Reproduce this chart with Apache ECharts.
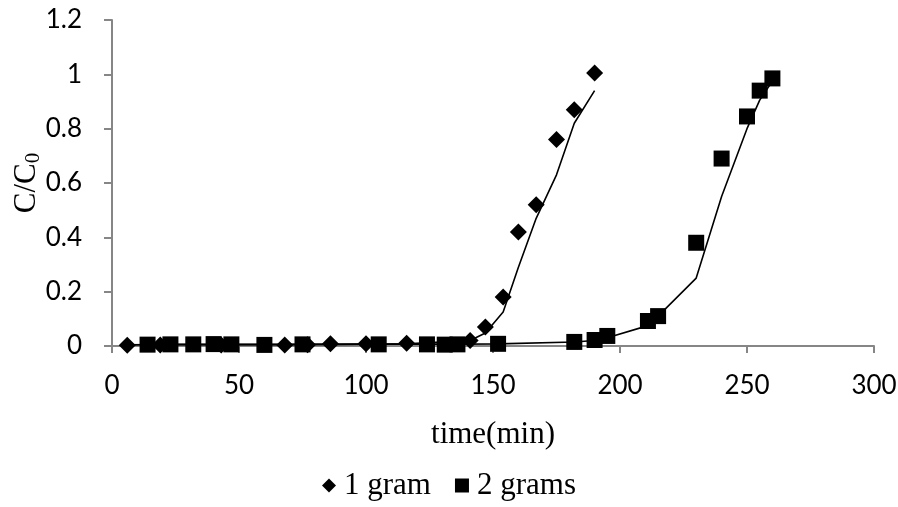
<!DOCTYPE html>
<html>
<head>
<meta charset="utf-8">
<script src="https://cdn.jsdelivr.net/npm/echarts@6/dist/echarts.min.js"></script>
<style>
html,body{margin:0;padding:0;background:#fff;}
#chart{width:898px;height:507px;}
</style>
</head>
<body>
<div id="chart"></div>
<script>
// measured points, 1 gram
var t1 = [6, 19, 43, 68, 77, 86, 100, 116, 141, 147, 154, 160, 167, 175, 182, 190];
var c1 = [0.003, 0.004, 0.004, 0.004, 0.005, 0.008, 0.008, 0.01, 0.02, 0.07, 0.18, 0.42, 0.52, 0.76, 0.87, 1.005];
// model line, 1 gram
var fit1 = [0.004, 0.005, 0.005, 0.005, 0.006, 0.006, 0.007, 0.008, 0.02, 0.048, 0.125, 0.29, 0.47, 0.63, 0.82, 0.94];

// measured points, 2 grams
var t2 = [14, 23, 32, 40, 47, 60, 75, 105, 124, 131, 136, 152, 182, 190, 195, 211, 215, 230, 240, 250, 255, 260];
var c2 = [0.005, 0.006, 0.006, 0.007, 0.006, 0.004, 0.006, 0.006, 0.006, 0.005, 0.006, 0.008, 0.015, 0.022, 0.037, 0.092, 0.11, 0.38, 0.69, 0.845, 0.94, 0.985];
// model line, 2 grams
var fit2 = [0.006, 0.006, 0.006, 0.006, 0.006, 0.006, 0.006, 0.007, 0.007, 0.007, 0.007, 0.008, 0.015, 0.02, 0.03, 0.075, 0.11, 0.25, 0.55, 0.8, 0.905, 0.975];

var seriesNames = ['1 gram', '2 grams'];

function pairs(xs, ys){
    var out = [];
    for (var i = 0; i < xs.length; i++) out.push([xs[i], ys[i]]);
    return out;
}

var chart = echarts.init(document.getElementById('chart'));
var axisGray = '#868686';
var serif = 'Liberation Serif';
var option = {
    animation: false,
    backgroundColor: '#fff',
    grid: { left: 112, right: 24, top: 20, bottom: 161, containLabel: false, outerBoundsMode: 'none' },
    legend: {
        data: [
            { name: seriesNames[0], icon: 'diamond' },
            { name: seriesNames[1], icon: 'rect' }
        ],
        bottom: 1,
        left: 'center',
        itemWidth: 14,
        itemHeight: 14,
        itemGap: 24,
        textStyle: { fontFamily: serif, fontSize: 31, color: '#000', padding: [0, 0, 0, 3] }
    },
    xAxis: {
        type: 'value',
        min: 0, max: 300, interval: 50,
        name: 'time(min)',
        nameLocation: 'middle',
        nameGap: 73,
        nameTextStyle: { fontFamily: serif, fontSize: 31, color: '#000' },
        axisLine: { show: true, lineStyle: { color: axisGray, width: 2 } },
        axisTick: { show: true, length: 7, lineStyle: { color: axisGray, width: 2 } },
        axisLabel: { margin: 27, fontFamily: 'Lato', fontSize: 26, color: '#000' },
        splitLine: { show: false }
    },
    yAxis: {
        type: 'value',
        min: 0, max: 1.2, interval: 0.2,
        name: '{a|C/C}{b|0}',
        nameLocation: 'middle',
        nameGap: 68,
        nameMoveOverlap: false,
        nameRotate: 90,
        nameTextStyle: {
            rich: {
                a: { fontFamily: serif, fontSize: 31, color: '#000' },
                b: { fontFamily: serif, fontSize: 21, color: '#000', padding: [14, 0, 0, 0] }
            }
        },
        axisLine: { show: true, lineStyle: { color: axisGray, width: 2 } },
        axisTick: { show: true, length: 8, lineStyle: { color: axisGray, width: 2 } },
        axisLabel: { margin: 30, fontFamily: 'Lato', fontSize: 26, color: '#000' },
        splitLine: { show: false }
    },
    series: [
        {
            name: 'fit 1 gram',
            type: 'line',
            data: pairs(t1, fit1),
            showSymbol: false,
            lineStyle: { color: '#000', width: 1.6 },
            z: 1
        },
        {
            name: 'fit 2 grams',
            type: 'line',
            data: pairs(t2, fit2),
            showSymbol: false,
            lineStyle: { color: '#000', width: 1.6 },
            z: 1
        },
        {
            name: seriesNames[0],
            type: 'scatter',
            symbol: 'diamond',
            symbolSize: 17,
            itemStyle: { color: '#000', opacity: 1 },
            data: pairs(t1, c1),
            z: 3
        },
        {
            name: seriesNames[1],
            type: 'scatter',
            symbol: 'rect',
            symbolSize: 16,
            itemStyle: { color: '#000', opacity: 1 },
            data: pairs(t2, c2),
            z: 2
        }
    ]
};
chart.setOption(option);
window.addEventListener('resize', function () {
    chart.resize();
});
</script>
</body>
</html>
